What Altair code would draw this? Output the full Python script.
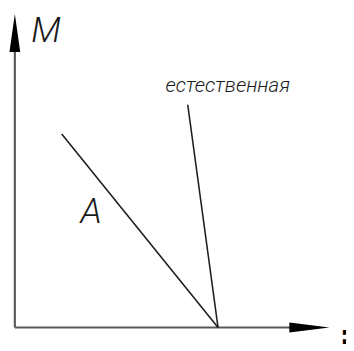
import altair as alt
import pandas as pd

# Coordinates in drawing units (origin at the axes' crossing point)
line_a_x = [48, 208]
line_a_y = [198, 0]
natural_x = [177, 208]
natural_y = [228, 0]

yaxis_x = [0, 0]
yaxis_y = [0, 284]
xaxis_x = [0, 283]
xaxis_y = [0, 0]

# arrowheads
yarrow_y = [282, 321]
yarrow_xl = [-5.5, 0]
yarrow_xr = [5.5, 0]
xarrow_x = [281, 322]
xarrow_yl = [-5, 0]
xarrow_yu = [5, 0]

labels = ["M", "A", "естественная", ":"]
label_x = [32, 78, 218, 338]
label_y = [303, 118, 247, -9]

X = alt.Scale(domain=[-7, 339], range=[0, 346], nice=False, zero=False)
Y = alt.Scale(domain=[-20, 323], range=[343, 0], nice=False, zero=False)

def seg(xs, ys, name):
    return pd.DataFrame({"x": xs, "y": ys, "o": list(range(len(xs))), "s": name})

axes_df = pd.concat([seg(yaxis_x, yaxis_y, "y"), seg(xaxis_x, xaxis_y, "x")])
curves_df = pd.concat([seg(line_a_x, line_a_y, "A"), seg(natural_x, natural_y, "n")])

axes = alt.Chart(axes_df).mark_line(color="#5a5a5a", strokeWidth=2.2).encode(
    x=alt.X("x:Q", scale=X, axis=None),
    y=alt.Y("y:Q", scale=Y, axis=None),
    detail="s:N",
    order="o:Q",
)

curves = alt.Chart(curves_df).mark_line(color="#1e1e1e", strokeWidth=1.6).encode(
    x=alt.X("x:Q", scale=X, axis=None),
    y=alt.Y("y:Q", scale=Y, axis=None),
    detail="s:N",
    order="o:Q",
)

yarrow = alt.Chart(pd.DataFrame({"y": yarrow_y, "xl": yarrow_xl, "xr": yarrow_xr})).mark_area(
    color="black", orient="horizontal"
).encode(
    y=alt.Y("y:Q", scale=Y, axis=None),
    x=alt.X("xl:Q", scale=X, axis=None),
    x2="xr:Q",
)

xarrow = alt.Chart(pd.DataFrame({"x": xarrow_x, "yl": xarrow_yl, "yu": xarrow_yu})).mark_area(
    color="black", orient="vertical"
).encode(
    x=alt.X("x:Q", scale=X, axis=None),
    y=alt.Y("yl:Q", scale=Y, axis=None),
    y2="yu:Q",
)

lab_df = pd.DataFrame({"t": labels, "x": label_x, "y": label_y})

big = alt.Chart(lab_df.iloc[0:2]).mark_text(
    font="Roboto", fontStyle="italic", fontWeight=300, fontSize=36, color="#1a1a1a"
).encode(
    x=alt.X("x:Q", scale=X, axis=None),
    y=alt.Y("y:Q", scale=Y, axis=None),
    text="t:N",
)

nat = alt.Chart(lab_df.iloc[2:3]).mark_text(
    font="Roboto", fontStyle="italic", fontWeight=300, fontSize=21, color="#1a1a1a"
).encode(
    x=alt.X("x:Q", scale=X, axis=None),
    y=alt.Y("y:Q", scale=Y, axis=None),
    text="t:N",
)

colon = alt.Chart(lab_df.iloc[3:4]).mark_text(
    font="DejaVu Sans", fontWeight="bold", fontSize=26, color="black"
).encode(
    x=alt.X("x:Q", scale=X, axis=None),
    y=alt.Y("y:Q", scale=Y, axis=None),
    text="t:N",
)

chart = alt.layer(axes, curves, yarrow, xarrow, big, nat, colon).properties(
    width=346, height=343, padding=0, autosize="none", background="white"
).configure_view(stroke=None)

chart.save("out.html", embed_options={"renderer": "svg", "actions": False})
